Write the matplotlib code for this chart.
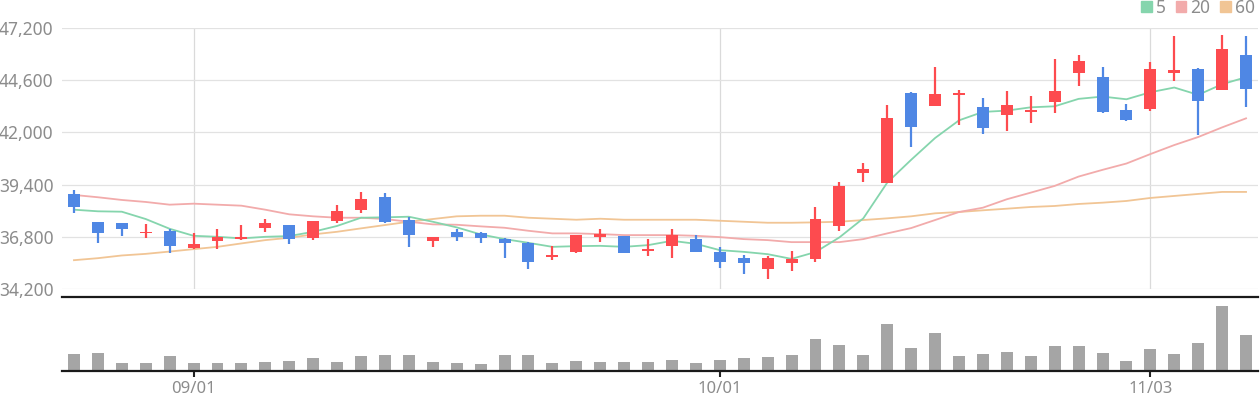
import matplotlib.pyplot as plt
import numpy as np
import pandas as pd
from matplotlib.patches import Patch

plt.rcParams['font.family'] = ['Noto Sans', 'DejaVu Sans']

# trading days (KRX holidays in early October removed)
holidays = ['2025-10-03', '2025-10-06', '2025-10-07', '2025-10-08', '2025-10-09']
days = [d for d in pd.bdate_range('2025-08-25', '2025-11-07')
        if d.strftime('%Y-%m-%d') not in holidays]
day_labels = [d.strftime('%m/%d') for d in days]
shown_labels = ['09/01', '10/01', '11/03']

opens = [38950, 37550, 37500, 37000, 37100, 36250, 36600, 36700, 37250, 37400,
         36750, 37600, 38150, 38800, 37650, 36600, 37050, 37000, 36700, 36500,
         35800, 36050, 36800, 36850, 36100, 36350, 36700, 36050, 35750, 35200,
         35500, 35700, 37350, 40000, 39500, 43950, 43300, 43850, 43250, 42850,
         43000, 43500, 44950, 44750, 43100, 43150, 44950, 45150, 44100, 45850]
highs = [39150, 37550, 37500, 37450, 37200, 37000, 37200, 37400, 37700, 37400,
         37600, 38400, 39050, 39000, 37800, 36800, 37200, 37050, 36750, 36550,
         36350, 36900, 37200, 36850, 36700, 37200, 36900, 36300, 35900, 35850,
         36100, 38300, 39550, 40500, 43350, 44000, 45250, 44100, 43700, 44050,
         43800, 45650, 45850, 45250, 43400, 45500, 46800, 45200, 46850, 46800]
lows = [38000, 36500, 36850, 36750, 36000, 36200, 36200, 36650, 37050, 36450,
        36650, 37500, 38000, 37500, 36300, 36300, 36600, 36500, 35750, 35200,
        35650, 36000, 36550, 36000, 35850, 35750, 36050, 35250, 34950, 34700,
        35100, 35550, 37100, 39550, 39500, 41250, 43300, 42350, 41900, 42050,
        42450, 42950, 44300, 42950, 42550, 43050, 44550, 41850, 44100, 43250]
closes = [38300, 37000, 37200, 37050, 36350, 36450, 36800, 36800, 37500, 36700,
          37600, 38100, 38700, 37550, 36900, 36800, 36800, 36750, 36500, 35550,
          35900, 36900, 36950, 36000, 36200, 36900, 36050, 35550, 35500, 35750,
          35700, 37700, 39350, 40200, 42700, 42250, 43900, 43950, 42200, 43350,
          43100, 44050, 45550, 43000, 42600, 45150, 45100, 43550, 46150, 44150]
volumes_k = [52, 55, 25, 25, 46, 25, 25, 25, 28, 31, 40, 28, 46, 49, 49, 28, 25,
             22, 49, 49, 25, 31, 28, 28, 28, 34, 25, 34, 40, 43, 49, 97, 79, 49,
             142, 70, 115, 46, 52, 58, 46, 76, 76, 55, 31, 67, 52, 85, 196, 109]

ma5 = [38150, 38070, 38050, 37685, 37200, 36850, 36800, 36720, 36800, 36835,
       37050, 37340, 37750, 37770, 37800, 37550, 37270, 36920, 36685, 36500,
       36300, 36335, 36350, 36300, 36385, 36600, 36450, 36135, 36050, 35935,
       35700, 36040, 36770, 37720, 39500, 40635, 41720, 42600, 43020, 43085,
       43250, 43300, 43670, 43785, 43650, 44000, 44235, 43870, 44400, 44750]
ma20 = [38885, 38770, 38635, 38535, 38400, 38450, 38400, 38350, 38150, 37920,
        37820, 37750, 37750, 37685, 37550, 37420, 37400, 37320, 37250, 37100,
        36970, 36970, 36935, 36885, 36885, 36885, 36850, 36785, 36685, 36635,
        36535, 36535, 36535, 36685, 36970, 37235, 37635, 38035, 38250, 38670,
        39000, 39335, 39800, 40135, 40450, 40920, 41370, 41770, 42250, 42700]
ma60 = [35635, 35735, 35870, 35950, 36065, 36185, 36300, 36470, 36635, 36750,
        36920, 37050, 37220, 37385, 37550, 37685, 37820, 37850, 37850, 37750,
        37700, 37650, 37700, 37650, 37650, 37650, 37650, 37600, 37550, 37500,
        37500, 37520, 37550, 37635, 37720, 37820, 37970, 38035, 38120, 38200,
        38285, 38335, 38435, 38500, 38585, 38735, 38835, 38935, 39035, 39035]

up_color = '#fd4b4f'
down_color = '#4f87e4'
label_color = '#8c8c8c'
ma_colors = {'5': '#85d5ad', '20': '#f2abab', '60': '#f1c595'}

x = np.arange(len(days))
o = np.array(opens)
c = np.array(closes)
colors = [up_color if cc >= oo else down_color for oo, cc in zip(o, c)]

fig = plt.figure(figsize=(12.6, 4), dpi=100)
ax = fig.add_axes([62 / 1260, 111 / 400, 1196 / 1260, 261 / 400])
axv = fig.add_axes([62 / 1260, 29 / 400, 1196 / 1260, 74 / 400])

# moving averages (behind candles)
ax.plot(x, ma60, color=ma_colors['60'], lw=1.3, zorder=2)
ax.plot(x, ma20, color=ma_colors['20'], lw=1.3, zorder=2)
ax.plot(x, ma5, color=ma_colors['5'], lw=1.3, zorder=2)

# candles
ax.vlines(x, lows, highs, colors=colors, lw=1.6, zorder=3)
ax.bar(x, np.abs(c - o), bottom=np.minimum(o, c), width=0.5, color=colors, zorder=4)

ax.set_xlim(-0.5, len(days) - 0.5)
ax.set_ylim(34200, 47200)
yt = np.arange(34200, 47201, 2600)
ax.set_yticks(yt)
ax.set_yticklabels([f'{v:,}' for v in yt])
tick_pos = [day_labels.index(s) for s in shown_labels]
ax.set_xticks(tick_pos)
ax.tick_params(axis='x', labelbottom=False, length=0)
ax.tick_params(axis='y', length=0, pad=6, labelsize=12.5, labelcolor=label_color)
ax.grid(axis='y', color='#e2e2e2', lw=0.9)
ax.grid(axis='x', color='#dadada', lw=0.9)
ax.set_axisbelow(True)
for s in ax.spines.values():
    s.set_visible(False)

# volume
axv.bar(x, volumes_k, width=0.5, color='#a5a5a5')
axv.set_xlim(-0.5, len(days) - 0.5)
axv.set_ylim(0, max(volumes_k) * 1.14)
axv.set_yticks([])
axv.set_xticks(tick_pos)
axv.set_xticklabels(shown_labels)
axv.tick_params(axis='x', length=4, width=1.5, color='#222222',
                labelsize=12, labelcolor=label_color, pad=3)
for side in ['left', 'right']:
    axv.spines[side].set_visible(False)
for side in ['top', 'bottom']:
    axv.spines[side].set_linewidth(1.6)
    axv.spines[side].set_color('#1a1a1a')

handles = [Patch(color=ma_colors[k]) for k in ma_colors]
fig.legend(handles, list(ma_colors), loc='upper right', bbox_to_anchor=(0.999, 1.012),
           ncol=3, frameon=False, fontsize=12.5, labelcolor=label_color,
           handlelength=0.62, handleheight=0.62, handletextpad=0.25,
           columnspacing=0.55, borderaxespad=0, borderpad=0.2)

fig.savefig('out.png', dpi=100)
